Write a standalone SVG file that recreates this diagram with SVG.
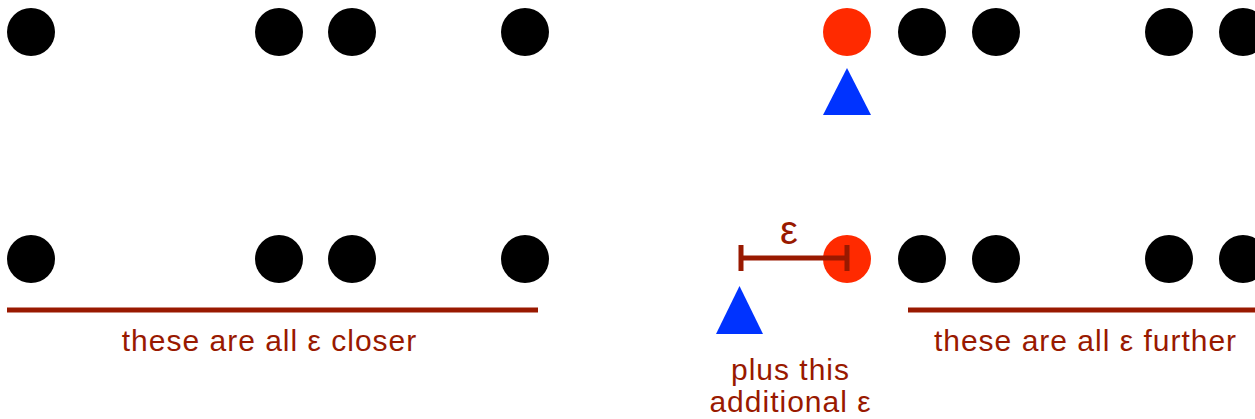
<svg xmlns="http://www.w3.org/2000/svg" width="1255" height="419" viewBox="0 0 1255 419">
<style>
.dot{fill:#000}
.red{fill:#ff2a00}
.tri{fill:#0033ff}
.lbl{font-family:"Liberation Sans",Arial,sans-serif;font-size:30px;letter-spacing:1px;fill:#991900;text-anchor:middle}
.bar{stroke:#991900;stroke-width:5;fill:none}
</style>
<rect width="1255" height="419" fill="#fff"/>
<g id="top-row">
<circle class="dot" cx="31" cy="32" r="24"/>
<circle class="dot" cx="279" cy="32" r="24"/>
<circle class="dot" cx="352" cy="32" r="24"/>
<circle class="dot" cx="525" cy="32" r="24"/>
<circle class="red" cx="847" cy="32" r="24"/>
<circle class="dot" cx="922" cy="32" r="24"/>
<circle class="dot" cx="996" cy="32" r="24"/>
<circle class="dot" cx="1169" cy="32" r="24"/>
<circle class="dot" cx="1243" cy="32" r="24"/>
</g>
<g id="top-triangle"><polygon class="tri" points="847,68 871,115 823,115"/></g>
<g id="bottom-row">
<circle class="dot" cx="31" cy="259" r="24"/>
<circle class="dot" cx="279" cy="259" r="24"/>
<circle class="dot" cx="352" cy="259" r="24"/>
<circle class="dot" cx="525" cy="259" r="24"/>
<circle class="red" cx="847" cy="259" r="24"/>
<circle class="dot" cx="922" cy="259" r="24"/>
<circle class="dot" cx="996" cy="259" r="24"/>
<circle class="dot" cx="1169" cy="259" r="24"/>
<circle class="dot" cx="1243" cy="259" r="24"/>
</g>
<g id="bottom-triangle"><polygon class="tri" points="739.5,286 763,334 716,334"/></g>
<g id="connectors">
<line class="bar" x1="741" y1="258" x2="847" y2="258"/>
<line class="bar" x1="741" y1="245" x2="741" y2="271" stroke-width="6"/>
<line class="bar" x1="847" y1="245" x2="847" y2="271" stroke-width="6"/>
<line class="bar" x1="7" y1="310" x2="538" y2="310"/>
<line class="bar" x1="908" y1="310" x2="1255" y2="310"/>
</g>
<g id="labels">
<text class="lbl" x="789" y="244" style="font-size:40px;letter-spacing:0">ε</text>
<text class="lbl" x="269.5" y="351">these are all ε closer</text>
<text class="lbl" x="1085.5" y="351">these are all ε further</text>
<text class="lbl" x="790.5" y="380">plus this</text>
<text class="lbl" x="790.5" y="412">additional ε</text>
</g>
</svg>
